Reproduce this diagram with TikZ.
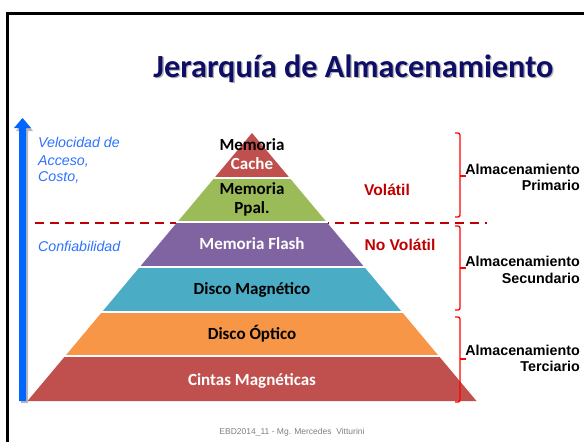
\documentclass[tikz,border=0pt]{standalone}
\usepackage{fontspec}
\setmainfont{Liberation Sans}
\newfontfamily\calibri{Carlito}
\definecolor{cacheC}{HTML}{C0504D}
\definecolor{ppalC}{HTML}{9BBB59}
\definecolor{flashC}{HTML}{8064A2}
\definecolor{magC}{HTML}{4BACC6}
\definecolor{optC}{HTML}{F79646}
\definecolor{tapeC}{HTML}{C0504D}
\definecolor{navyT}{HTML}{0E0E68}
\definecolor{volC}{HTML}{C00000}
\definecolor{blueA}{HTML}{0066FF}
\definecolor{blueT}{HTML}{2F72FF}
\definecolor{braceC}{HTML}{FF0000}
\tikzset{
  plab/.style={font=\calibri\bfseries\fontsize{17}{19}\selectfont, anchor=base, inner sep=0pt},
  rlab/.style={font=\bfseries\fontsize{14.3}{16}\selectfont, anchor=base east, inner sep=0pt},
  vlab/.style={font=\bfseries\fontsize{15.6}{17}\selectfont, text=volC, anchor=base, inner sep=0pt},
  llab/.style={font=\itshape\fontsize{14.2}{16}\selectfont, text=blueT, anchor=base west, inner sep=0pt},
  bracepath/.style={draw=braceC, line width=1.3pt, rounded corners=2pt},
  gapline/.style={draw=white, line width=2pt},
  titlefont/.style={font=\calibri\bfseries\fontsize{32.3}{36}\selectfont, anchor=base, inner sep=0pt},
}
\begin{document}
\begin{tikzpicture}[x=1pt,y=-1pt]
\useasboundingbox (0,0) rectangle (584,442);
\fill[white] (0,0) rectangle (584,442);
% frame
\draw[line width=3pt] (7,442) -- (7,13) -- (584,13);
% title
\node[titlefont, text=black!30] (titleshadow) at (354.8,78.3) {Jerarquía de Almacenamiento};
\node[titlefont, text=navyT] (title) at (353.5,77) {Jerarquía de Almacenamiento};
% dashed divider (behind the pyramid)
\draw[volC, line width=2pt, dash pattern=on 9pt off 6pt] (35,223.3) -- (487,223.3);
% blue arrow with shadow
\fill[gray!55] (21,403) -- (21,131) -- (16,131) -- (24.5,120) -- (33,131) -- (28,131) -- (28,403) -- cycle;
\fill[blueA] (19,401) -- (19,128) -- (14,128) -- (22.5,118) -- (31,128) -- (26,128) -- (26,401) -- cycle;
% pyramid layers
\fill[cacheC] (252,133) -- (289.42,177.67) -- (214.58,177.67) -- cycle;
\fill[ppalC] (214.58,177.67) -- (289.42,177.67) -- (326.83,222.33) -- (177.17,222.33) -- cycle;
\fill[flashC] (177.17,222.33) -- (326.83,222.33) -- (364.25,267) -- (139.75,267) -- cycle;
\fill[magC] (139.75,267) -- (364.25,267) -- (401.67,311.67) -- (102.33,311.67) -- cycle;
\fill[optC] (102.33,311.67) -- (401.67,311.67) -- (439.08,356.33) -- (64.92,356.33) -- cycle;
\fill[tapeC] (64.92,356.33) -- (439.08,356.33) -- (476.5,401) -- (27.5,401) -- cycle;
% white gaps
\draw[gapline] (213.5,177.67) -- (290.5,177.67);
\draw[gapline] (176,222.33) -- (328,222.33);
\draw[gapline] (138.5,267) -- (365.5,267);
\draw[gapline] (101,311.67) -- (403,311.67);
\draw[gapline] (63.5,356.33) -- (440.5,356.33);
% pyramid labels
\node[plab, text=black] (cache1) at (252,150.5) {Memoria};
\node[plab, text=white] (cache2) at (252,169.5) {Cache};
\node[plab, text=black] (ppal1) at (252,194.5) {Memoria};
\node[plab, text=black] (ppal2) at (252,213) {Ppal.};
\node[plab, text=white] (flash) at (252,249.5) {Memoria Flash};
\node[plab, text=black] (mag) at (252,294.5) {Disco Magnético};
\node[plab, text=black] (opt) at (252,339.5) {Disco Óptico};
\node[plab, text=white] (tape) at (252,385.5) {Cintas Magnéticas};
% volatility labels
\node[vlab] (vol) at (387,195.5) {Volátil};
\node[vlab] (novol) at (400,250.5) {No Volátil};
% left labels
\node[llab] (vel1) at (38,147.5) {Velocidad de};
\node[llab] (vel2) at (38,165.5) {Acceso,};
\node[llab] (vel3) at (38,181.5) {Costo,};
\node[llab] (conf) at (38,251.5) {Confiabilidad};
% braces
\draw[bracepath] (455,133) -- (460,133) -- (460,217) -- (455,217);
\draw[braceC, line width=1.3pt] (460,176) -- (466,176);
\draw[bracepath] (455,226) -- (460,226) -- (460,310) -- (455,310);
\draw[braceC, line width=1.3pt] (460,268) -- (466,268);
\draw[bracepath] (455,317) -- (460,317) -- (460,402) -- (455,402);
\draw[braceC, line width=1.3pt] (460,359) -- (466,359);
% brace labels
\node[rlab] (prim1) at (580,174) {Almacenamiento};
\node[rlab] (prim2) at (580,190) {Primario};
\node[rlab] (sec1) at (580,266) {Almacenamiento};
\node[rlab] (sec2) at (580,283) {Secundario};
\node[rlab] (ter1) at (580,355) {Almacenamiento};
\node[rlab] (ter2) at (580,371) {Terciario};
% footer
\node[font=\fontsize{8.5}{10}\selectfont, text=gray, anchor=base, inner sep=0pt] (foot) at (292,434) {EBD2014\_11 - Mg. Mercedes \ Vitturini};
\end{tikzpicture}
\end{document}
